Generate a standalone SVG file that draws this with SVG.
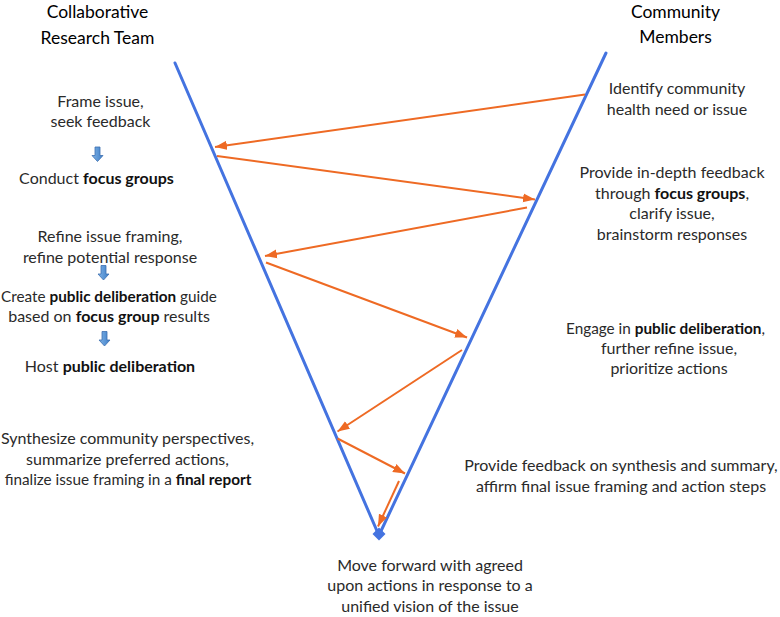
<svg xmlns="http://www.w3.org/2000/svg" width="780" height="617" viewBox="0 0 780 617">
<defs>
<style>
.t{font-family:Lato,"Open Sans","Liberation Sans",sans-serif;font-size:16px;font-weight:400;fill:#2a2a2a;text-anchor:middle}
.s{font-size:15.3px}
.b{font-weight:700;fill:#111}
.h{font-family:Lato,"Open Sans","Liberation Sans",sans-serif;font-size:17.5px;font-weight:400;fill:#000;text-anchor:middle}
.v{stroke:#4473E0;stroke-width:3;fill:none;stroke-linecap:round}
.o{stroke:#EE6A24;stroke-width:2;fill:none;marker-end:url(#ah)}
.ba{fill:url(#bg);stroke:#3C6FB0;stroke-width:0.8}
</style>
<linearGradient id="bg" x1="0" y1="0" x2="1" y2="0">
<stop offset="0" stop-color="#7FB2E6"/>
<stop offset="1" stop-color="#3E7FC8"/>
</linearGradient>
<marker id="ah" markerUnits="userSpaceOnUse" markerWidth="13" markerHeight="10" refX="12" refY="5" orient="auto">
<path d="M0,0.5 L12,5 L0,9.5 z" fill="#EE6A24"/>
</marker>
<path id="barrow" d="M-2.5,0 H2.5 V8.5 H5.5 L0,14.5 L-5.5,8.5 H-2.5 Z"/>
</defs>
<rect width="780" height="617" fill="#fff"/>

<g id="connectors">
<line class="v" x1="175" y1="63" x2="377" y2="531"/>
<line class="v" x1="606" y1="53" x2="381" y2="531"/>
<polygon points="379,527.5 385.5,534 379,540.5 372.5,534" fill="#4473E0"/>
<line class="o" x1="585" y1="94.5" x2="215" y2="147"/>
<line class="o" x1="217" y1="156" x2="535" y2="199.5"/>
<line class="o" x1="527" y1="207.5" x2="265" y2="256"/>
<line class="o" x1="266" y1="262.5" x2="467" y2="337.5"/>
<line class="o" x1="462" y1="350" x2="337.5" y2="431.5"/>
<line class="o" x1="337.5" y1="438.5" x2="405" y2="473.5"/>
<line class="o" x1="399" y1="481" x2="378" y2="526.5"/>
<use href="#barrow" class="ba" x="97.5" y="147"/>
<use href="#barrow" class="ba" x="103.5" y="265.5"/>
<use href="#barrow" class="ba" x="104.5" y="331.5"/>
</g>

<g id="header-team">
<text class="h" x="97.5" y="17.5">Collaborative</text>
<text class="h" x="97.5" y="43.5">Research Team</text>
</g>
<g id="header-community">
<text class="h" x="675.5" y="18">Community</text>
<text class="h" x="675.5" y="42.5">Members</text>
</g>

<g id="team-frame">
<text class="t" x="100.5" y="106.5">Frame issue,</text>
<text class="t" x="100.5" y="127">seek feedback</text>
</g>
<g id="team-focus">
<text class="t" x="96.5" y="184">Conduct <tspan class="b">focus groups</tspan></text>
</g>
<g id="team-refine">
<text class="t" x="110" y="241.5">Refine issue framing,</text>
<text class="t" x="110" y="262.5">refine potential response</text>
</g>
<g id="team-guide">
<text class="t s" x="109" y="301.5">Create <tspan class="b">public deliberation</tspan> guide</text>
<text class="t" x="109" y="322">based on <tspan class="b">focus group</tspan> results</text>
</g>
<g id="team-host">
<text class="t" x="110" y="371.5">Host <tspan class="b">public deliberation</tspan></text>
</g>
<g id="team-synth">
<text class="t" x="127.5" y="444">Synthesize community perspectives,</text>
<text class="t" x="127.5" y="464.5">summarize preferred actions,</text>
<text class="t s" x="128" y="485">finalize issue framing in a <tspan class="b">final report</tspan></text>
</g>

<g id="comm-identify">
<text class="t" x="677" y="94">Identify community</text>
<text class="t" x="677" y="114.5">health need or issue</text>
</g>
<g id="comm-feedback">
<text class="t" x="672" y="178">Provide in-depth feedback</text>
<text class="t" x="672" y="198.5">through <tspan class="b">focus groups</tspan>,</text>
<text class="t" x="672" y="219">clarify issue,</text>
<text class="t" x="672" y="239.5">brainstorm responses</text>
</g>
<g id="comm-engage">
<text class="t s" x="665.5" y="334">Engage in <tspan class="b">public deliberation</tspan>,</text>
<text class="t" x="669" y="354">further refine issue,</text>
<text class="t" x="669" y="374">prioritize actions</text>
</g>
<g id="comm-affirm">
<text class="t" x="621" y="470.5">Provide feedback on synthesis and summary,</text>
<text class="t" x="621" y="491.5">affirm final issue framing and action steps</text>
</g>

<g id="outcome">
<text class="t" x="430" y="570.5">Move forward with agreed</text>
<text class="t" x="430" y="591">upon actions in response to a</text>
<text class="t" x="430" y="611.5">unified vision of the issue</text>
</g>
</svg>
